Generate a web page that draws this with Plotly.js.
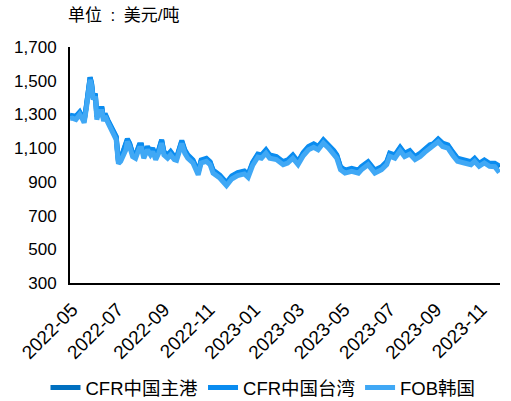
<!DOCTYPE html>
<html>
<head>
<meta charset="utf-8">
<script src="https://cdn.plot.ly/plotly-3.0.1.min.js"></script>
<style>html,body{margin:0;padding:0;background:#fff;}#chart{width:511px;height:401px;}</style>
</head>
<body>
<div id="chart"></div>
<script>
const dates = [
'2022-04-28','2022-05-01','2022-05-06','2022-05-11','2022-05-15','2022-05-17','2022-05-20','2022-05-23','2022-05-25','2022-05-27',
'2022-05-29','2022-06-01','2022-06-03','2022-06-06','2022-06-10','2022-06-12','2022-06-14','2022-06-18','2022-06-21','2022-06-23',
'2022-06-26','2022-06-29','2022-07-01','2022-07-02','2022-07-05','2022-07-08','2022-07-12','2022-07-14','2022-07-17','2022-07-21',
'2022-07-25','2022-07-30','2022-08-02','2022-08-05','2022-08-10','2022-08-14','2022-08-17','2022-08-21','2022-08-25','2022-08-29',
'2022-09-01','2022-09-06','2022-09-10','2022-09-15','2022-09-18','2022-09-25','2022-09-29','2022-10-03','2022-10-10','2022-10-17',
'2022-10-21','2022-10-28','2022-11-02','2022-11-06','2022-11-15','2022-11-24','2022-12-01','2022-12-09','2022-12-18','2022-12-23',
'2022-12-29','2023-01-05','2023-01-10','2023-01-16','2023-01-21','2023-01-30','2023-02-08','2023-02-14','2023-02-21','2023-02-28',
'2023-03-07','2023-03-14','2023-03-21','2023-03-27','2023-04-03','2023-04-10','2023-04-17','2023-04-21','2023-04-26','2023-05-02',
'2023-05-11','2023-05-20','2023-05-24','2023-06-02','2023-06-11','2023-06-20','2023-06-27','2023-07-01','2023-07-08','2023-07-15',
'2023-07-21','2023-07-28','2023-08-04','2023-08-11','2023-08-17','2023-08-24','2023-08-28','2023-09-04','2023-09-10','2023-09-17',
'2023-09-24','2023-09-30','2023-10-09','2023-10-18','2023-10-23','2023-10-29','2023-11-05','2023-11-12','2023-11-19','2023-11-25'
];
const cfrChina = [
1290,1290,1285,1310,1280,1260,1350,1460,1520,1480,
1400,1420,1285,1330,1330,1270,1300,1260,1230,1220,
1185,1165,1065,1020,1035,1075,1105,1150,1125,1065,
1055,1115,1115,1055,1105,1075,1095,1045,1085,1145,
1075,1055,1075,1045,1040,1140,1085,1055,1025,955,
1025,1035,1015,965,935,890,930,950,960,940,
1010,1060,1055,1085,1055,1045,1015,1025,1055,1015,
1070,1105,1120,1105,1145,1115,1080,1055,985,965,
975,965,985,1015,965,985,1015,1065,1055,1100,
1065,1080,1045,1065,1090,1115,1120,1150,1125,1115,
1070,1035,1025,1015,1035,1005,1025,1005,1005,985
];
const cfrTaiwan = [
1295,1295,1290,1315,1285,1265,1355,1465,1520,1485,
1405,1425,1290,1335,1335,1275,1305,1265,1235,1225,
1190,1170,1070,1025,1040,1080,1110,1155,1130,1070,
1060,1120,1120,1060,1110,1080,1100,1050,1090,1150,
1080,1060,1080,1050,1045,1145,1090,1060,1030,960,
1030,1040,1020,970,940,895,935,955,965,945,
1015,1065,1060,1090,1060,1050,1020,1030,1060,1020,
1075,1110,1125,1110,1150,1120,1085,1060,990,970,
980,970,990,1020,970,990,1020,1070,1060,1105,
1070,1085,1050,1070,1095,1120,1125,1155,1130,1120,
1075,1040,1030,1020,1040,1010,1030,1010,1010,995
];
const fobKorea = [
1275,1278,1270,1300,1270,1250,1338,1447,1505,1467,
1388,1407,1270,1318,1318,1260,1290,1250,1220,1210,
1170,1150,1050,1008,1022,1060,1090,1140,1110,1050,
1040,1100,1100,1040,1090,1060,1080,1032,1070,1130,
1060,1040,1060,1032,1028,1127,1070,1040,1012,942,
1012,1022,1002,952,923,878,917,937,947,927,
997,1046,1040,1070,1040,1032,1002,1012,1040,1002,
1055,1090,1105,1090,1130,1100,1065,1040,972,952,
962,952,972,1002,952,972,1002,1052,1040,1085,
1050,1065,1032,1050,1075,1100,1108,1138,1110,1100,
1055,1022,1012,1002,1022,992,1012,992,990,955
];
const seriesNames = ['CFR中国主港','CFR中国台湾','FOB韩国'];
const seriesColors = ['#0070c0','#0a8cf0','#40a8f5'];
const tickDates = ['2022-05-01','2022-07-01','2022-09-01','2022-11-01','2023-01-01','2023-03-01','2023-05-01','2023-07-01','2023-09-01','2023-11-01'];
const tickLabels = ['2022-05','2022-07','2022-09','2022-11','2023-01','2023-03','2023-05','2023-07','2023-09','2023-11'];
const yTicks = [300,500,700,900,1100,1300,1500,1700];

const FONT = 'Liberation Sans, Arial, Noto Sans CJK SC, sans-serif';
const values = [cfrChina, cfrTaiwan, fobKorea];
const traces = values.map((v,i)=>({
  x: dates, y: v, type:'scatter', mode:'lines', name: seriesNames[i],
  line:{color: seriesColors[i], width:5, shape:'linear'}
}));

const layout = {
  width:511, height:401,
  margin:{l:70, r:11, t:47, b:118},
  paper_bgcolor:'#fff', plot_bgcolor:'#fff',
  font:{family:FONT, size:17, color:'#000'},
  title:{text:'单位\u2002:\u2002美元/吨', font:{family:FONT, size:17, color:'#000'},
    xref:'container', yref:'container', x:68/511, xanchor:'left', y:1-15/401, yanchor:'middle'},
  showlegend:true,
  legend:{orientation:'h', xref:'container', yref:'container', x:263/511, xanchor:'center',
    y:1-388/401, yanchor:'middle', font:{family:FONT, size:18.5, color:'#000'},
    itemwidth:30, tracegroupgap:0},
  xaxis:{type:'date', range:['2022-04-28','2023-11-26'], tickvals:tickDates, ticktext:tickLabels,
    tickangle:-45, showline:true, linecolor:'#000', linewidth:2, ticks:'', showgrid:false, zeroline:false,
    tickfont:{family:FONT, size:19, color:'#000'}, ticklabelstandoff:6},
  yaxis:{range:[300,1700], tickvals:yTicks, ticktext:yTicks.map(v=>v.toLocaleString('en-US')),
    showline:true, linecolor:'#000', linewidth:2, ticks:'', showgrid:false, zeroline:false,
    tickfont:{family:FONT, size:17, color:'#000'}, ticklabelstandoff:8}
};
Plotly.newPlot('chart', traces, layout, {displayModeBar:false, staticPlot:true});
</script>
</body>
</html>
